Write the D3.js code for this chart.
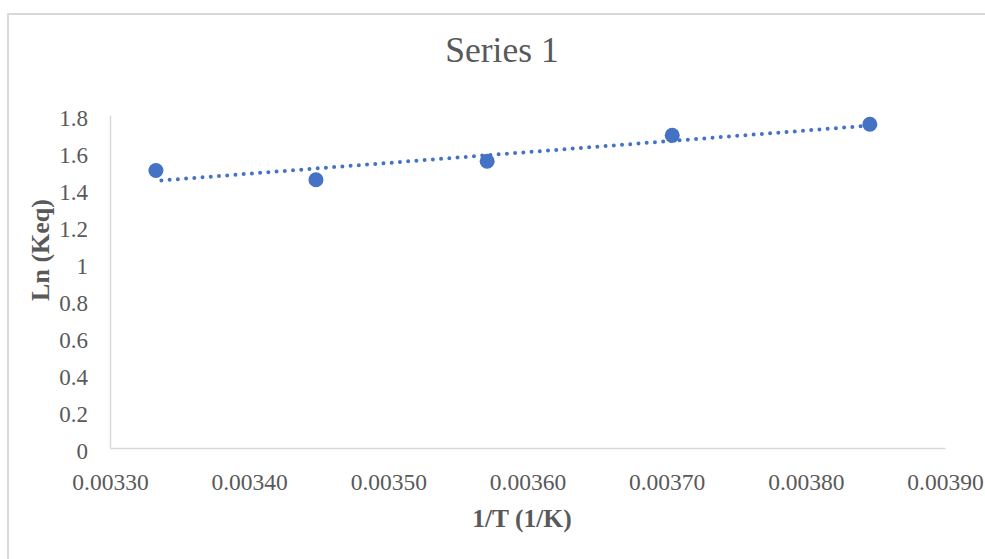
<!DOCTYPE html>
<html>
<head>
<meta charset="utf-8">
<script src="https://cdn.jsdelivr.net/npm/d3@7"></script>
<style>
  html, body { margin: 0; padding: 0; background: #fff; }
  svg { display: block; }
</style>
</head>
<body>
<svg id="chart" width="985" height="559"></svg>
<script>
// Reciprocal temperature (1/K) and ln(Keq) measurements
const invT = [0.003333, 0.003448, 0.003571, 0.003704, 0.003846];
const lnKeq = [1.50, 1.45, 1.55, 1.69, 1.75];

const xTicks = [0.0033, 0.0034, 0.0035, 0.0036, 0.0037, 0.0038, 0.0039];
const yTicks = [0, 0.2, 0.4, 0.6, 0.8, 1.0, 1.2, 1.4, 1.6, 1.8];

const chartTitle = "Series 1";
const xTitle = "1/T (1/K)";
const yTitle = "Ln (Keq)";

const svg = d3.select("#chart");
const font = "'Liberation Serif', 'Times New Roman', serif";
const textColor = "#595959";
const axisColor = "#d9d9d9";
const markColor = "#4472c4";

// chart frame
svg.append("rect")
  .attr("x", 8).attr("y", 14)
  .attr("width", 1000).attr("height", 600)
  .attr("fill", "#fff")
  .attr("stroke", "#d9d9d9").attr("stroke-width", 2);

const x = d3.scaleLinear().domain([0.0033, 0.0039]).range([110, 945]);
const y = d3.scaleLinear().domain([0, 1.8]).range([448, 115]);

// axes
const xAxis = svg.append("g")
  .attr("transform", `translate(0,${y(0)})`)
  .call(d3.axisBottom(x).tickValues(xTicks).tickSize(0).tickPadding(0)
    .tickFormat(d3.format(".5f")));
xAxis.select(".domain").attr("stroke", axisColor).attr("stroke-width", 1.5);
xAxis.selectAll("text")
  .attr("font-family", font).attr("font-size", 23.5)
  .attr("fill", textColor)
  .attr("dy", 0).attr("y", 42);

const yAxis = svg.append("g")
  .attr("transform", `translate(${x(0.0033)},0)`)
  .call(d3.axisLeft(y).tickValues(yTicks).tickSize(0).tickPadding(0)
    .tickFormat(d => d3.format("")(+d.toFixed(1))));
yAxis.select(".domain").attr("stroke", axisColor).attr("stroke-width", 1.5);
yAxis.selectAll("text")
  .attr("font-family", font).attr("font-size", 23)
  .attr("fill", textColor)
  .attr("x", -22).attr("dy", 10);

// linear least-squares trendline over the data range
const n = invT.length;
const mx = d3.mean(invT), my = d3.mean(lnKeq);
let sxy = 0, sxx = 0;
for (let i = 0; i < n; i++) {
  sxy += (invT[i] - mx) * (lnKeq[i] - my);
  sxx += (invT[i] - mx) ** 2;
}
const slope = sxy / sxx;
const intercept = my - slope * mx;
const xr = d3.extent(invT);
svg.append("line")
  .attr("x1", x(xr[0])).attr("y1", y(intercept + slope * xr[0]))
  .attr("x2", x(xr[1])).attr("y2", y(intercept + slope * xr[1]))
  .attr("stroke", markColor)
  .attr("stroke-width", 4)
  .attr("stroke-linecap", "round")
  .attr("stroke-dasharray", "0 8.25")
  .attr("stroke-dashoffset", -5.5);

// data points
svg.append("g").selectAll("circle")
  .data(invT.map((v, i) => [v, lnKeq[i]]))
  .join("circle")
  .attr("cx", d => x(d[0]))
  .attr("cy", d => y(d[1]))
  .attr("r", 7.5)
  .attr("fill", markColor);

// titles
svg.append("text")
  .attr("x", 502).attr("y", 62)
  .attr("text-anchor", "middle")
  .attr("font-family", font).attr("font-size", 35.5)
  .attr("fill", textColor)
  .text(chartTitle);

svg.append("text")
  .attr("x", 522).attr("y", 527)
  .attr("text-anchor", "middle")
  .attr("font-family", font).attr("font-size", 25.5).attr("font-weight", "bold")
  .attr("fill", textColor)
  .text(xTitle);

svg.append("text")
  .attr("transform", "translate(49,250) rotate(-90)")
  .attr("text-anchor", "middle")
  .attr("font-family", font).attr("font-size", 26).attr("font-weight", "bold")
  .attr("fill", textColor)
  .text(yTitle);
</script>
</body>
</html>
